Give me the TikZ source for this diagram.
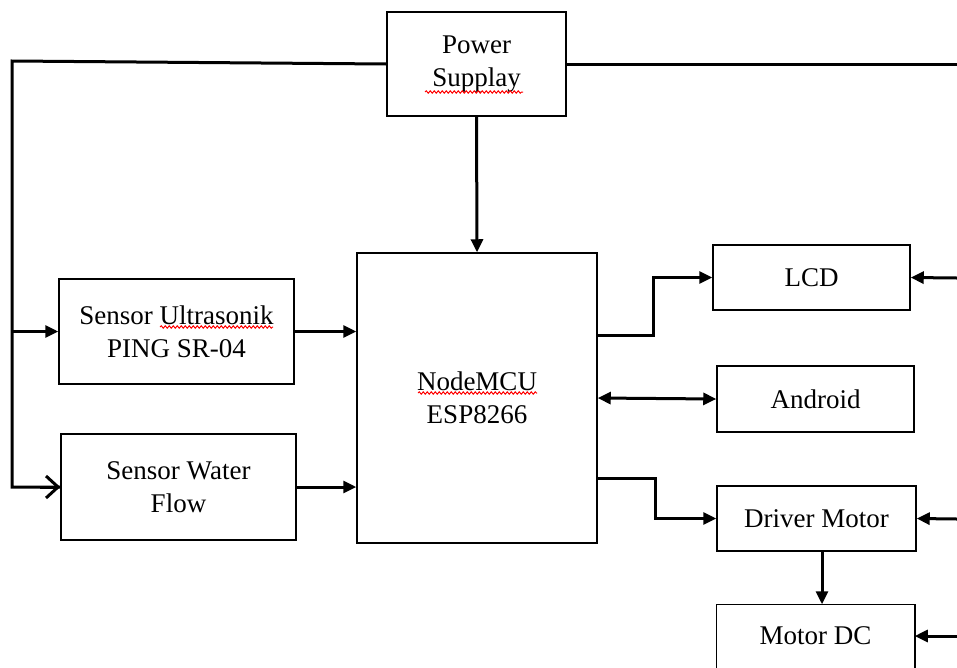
\documentclass[tikz,border=0pt]{standalone}
\usepackage{fontspec}
\setmainfont{Liberation Serif}
\usetikzlibrary{arrows.meta,decorations.pathmorphing,calc}
\begin{document}
\begin{tikzpicture}[x=1pt,y=-1pt,
 box/.style={draw, line width=1.5pt, inner sep=0pt, align=center, font=\fontsize{27}{33}\selectfont},
 conn/.style={line width=3pt},
 arr/.style={conn, -{Triangle[length=13pt,width=12pt]}},
 barb/.style={conn, -{Straight Barb[length=12pt,width=22pt]}},
 dbl/.style={conn, {Triangle[length=13pt,width=12pt]}-{Triangle[length=13pt,width=12pt]}},
 squig/.style={draw=red, line width=1pt, decorate, decoration={snake, amplitude=1.2pt, segment length=4pt}}]
\useasboundingbox (0,0) rectangle (957,667);
\fill[white] (0,0) rectangle (957,667);
% boxes
\node[box, minimum width=179pt, minimum height=104pt] (ps) at (476.5,64) {Power\\Supplay};
\node[box, minimum width=240pt, minimum height=290pt] (mcu) at (477,398) {NodeMCU\\ESP8266};
\node[box, minimum width=235pt, minimum height=105pt] (us) at (176.5,331.5) {Sensor Ultrasonik\\PING SR-04};
\node[box, minimum width=235pt, minimum height=106pt] (wf) at (178.5,487) {Sensor Water\\Flow};
\node[box, minimum width=197pt, minimum height=65pt] (lcd) at (811.5,277.5) {LCD};
\node[box, minimum width=197pt, minimum height=66pt] (and) at (815.5,399) {Android};
\node[box, minimum width=199pt, minimum height=65pt] (drv) at (816.5,518.5) {Driver Motor};
\node[box, draw=none, minimum width=197pt, minimum height=62pt] (mdc) at (815.5,636) {Motor DC};
\draw[line width=1.5pt] ($(mdc.south west)+(0,10)$) |- (mdc.north east) -- ++(0,72);
% spelling squiggles
\draw[squig] (425,92) -- (523,92);
\draw[squig] (160,327) -- (273,327);
\draw[squig] (418,393) -- (537,393);
% power buses
\coordinate (bl) at (12,61);
\coordinate (br) at (957,64);
\draw[conn, line join=miter] (ps.west) -- (bl) -- (bl |- wf.west) -- (wf.west);
\draw[barb] ($(wf.west)+(-20,0)$) -- (wf.west);
\draw[arr] (bl |- us.west) -- (us.west);
\draw[conn] (ps.east) -- (br);
\draw[arr] (ps.south) -- (mcu.north);
% sensors to mcu
\draw[arr] (us.east) -- (mcu.west |- us.east);
\draw[arr] (wf.east) -- (mcu.west |- wf.east);
% mcu to outputs
\draw[arr] ($(mcu.east)+(0,-63)$) -- ++(56,0) |- (lcd.west);
\draw[dbl] (mcu.east) -- (and.west);
\draw[arr] ($(mcu.east)+(0,80)$) -- ++(58,0) |- (drv.west);
\draw[arr] ($(drv.south)+(5.5,0)$) -- ($(mdc.north)+(6.5,0)$);
% right power feeds
\coordinate (r1) at (957,278);
\coordinate (r2) at (957,519);
\coordinate (r3) at (957,636);
\draw[arr] (r1) -- (lcd.east);
\draw[arr] (r2) -- (drv.east);
\draw[arr] (r3) -- (mdc.east);
\end{tikzpicture}
\end{document}
